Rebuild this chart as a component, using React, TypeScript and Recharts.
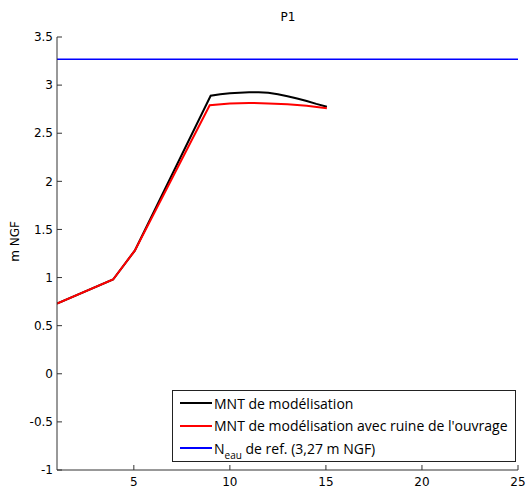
import { LineChart, Line, XAxis, YAxis, Legend } from 'recharts';

// profil P1 : abscisse (m) / cote (m NGF)
const mntX = [1, 3.92, 5.05, 9, 9.5, 10, 10.5, 11, 11.5, 12, 12.5, 13, 13.5, 14, 14.5, 15.05];
const mntY = [0.73, 0.98, 1.28, 2.89, 2.905, 2.915, 2.92, 2.925, 2.925, 2.92, 2.905, 2.885, 2.86, 2.835, 2.805, 2.775];
const ruineX = [1, 3.92, 5.05, 8.95, 10, 11, 12, 13, 14, 15.05];
const ruineY = [0.73, 0.98, 1.28, 2.79, 2.81, 2.815, 2.81, 2.8, 2.785, 2.76];
const eauX = [1, 25];
const eauY = [3.27, 3.27];

const xTicks = [5, 10, 15, 20, 25];
const yTicks = [-1, -0.5, 0, 0.5, 1, 1.5, 2, 2.5, 3, 3.5];

const toPoints = (xs: number[], ys: number[]) => xs.map((x, i) => ({ x, y: ys[i] }));

const mnt = toPoints(mntX, mntY);
const ruine = toPoints(ruineX, ruineY);
const eau = toPoints(eauX, eauY);

const tickFont = { fontFamily: 'DejaVu Sans', fontSize: 12, fill: '#000' };

function LegendBox() {
  const rows = [
    { color: '#000000', label: <>MNT de modélisation</> },
    { color: '#ff0000', label: <>MNT de modélisation avec ruine de l'ouvrage</> },
    {
      color: '#0000ff',
      label: (
        <>
          N<sub style={{ fontSize: 10, verticalAlign: -5, lineHeight: 0 }}>eau</sub> de ref. (3,27 m NGF)
        </>
      ),
    },
  ];
  return (
    <div
      style={{
        border: '1px solid #222',
        background: '#fff',
        padding: '1px 0 4px 7px',
        fontFamily: 'Open Sans',
        fontSize: 14,
        color: '#000',
        boxSizing: 'border-box',
        height: 72,
      }}
    >
      {rows.map((r, i) => (
        <div key={i} style={{ display: 'flex', alignItems: 'center', height: 22.5 }}>
          <span style={{ display: 'inline-block', width: 32, height: 0, borderTop: `2px solid ${r.color}`, marginRight: 2 }} />
          <span style={{ whiteSpace: 'nowrap' }}>{r.label}</span>
        </div>
      ))}
    </div>
  );
}

export default function App() {
  return (
    <div style={{ position: 'absolute', left: 0, top: 0, width: 527, height: 490, background: '#fff' }}>
      <div
        style={{
          position: 'absolute',
          left: 238,
          top: 10,
          width: 100,
          textAlign: 'center',
          fontFamily: 'DejaVu Sans',
          fontSize: 12,
        }}
      >
        P1
      </div>
      <LineChart width={527} height={490} margin={{ top: 37, right: 9, left: 0, bottom: 0 }}>
        <XAxis
          dataKey="x"
          type="number"
          domain={[1, 25]}
          ticks={xTicks}
          allowDataOverflow
          height={20}
          tickSize={-5}
          tickMargin={12}
          stroke="#333"
          tick={tickFont}
        />
        <YAxis
          dataKey="y"
          type="number"
          domain={[-1, 3.5]}
          ticks={yTicks}
          width={57}
          tickSize={-5}
          tickMargin={9}
          stroke="#333"
          tick={tickFont}
          label={{
            value: 'm NGF',
            angle: -90,
            position: 'insideLeft',
            offset: 15,
            dy: -12,
            style: { textAnchor: 'middle', fontFamily: 'DejaVu Sans', fontSize: 12, fill: '#000' },
          }}
        />
        <Line data={eau} dataKey="y" stroke="#0000ff" strokeWidth={1.5} dot={false} isAnimationActive={false} />
        <Line data={mnt} dataKey="y" stroke="#000000" strokeWidth={2} dot={false} isAnimationActive={false} />
        <Line data={ruine} dataKey="y" stroke="#ff0000" strokeWidth={2} dot={false} isAnimationActive={false} />
        <Legend
          layout="horizontal"
          align="center"
          verticalAlign="middle"
          content={() => <LegendBox />}
          wrapperStyle={{ left: 172, top: 390, width: 344 }}
        />
      </LineChart>
    </div>
  );
}
